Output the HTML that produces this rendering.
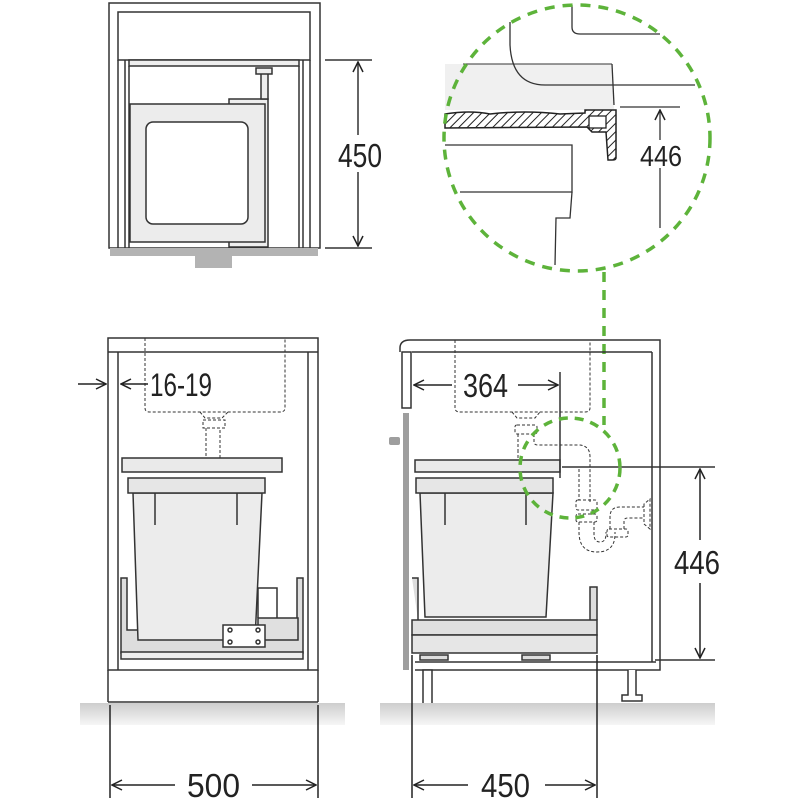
<!DOCTYPE html>
<html><head><meta charset="utf-8"><style>
html,body{margin:0;padding:0;background:#fff}
svg{display:block}
text{font-family:"Liberation Sans Narrow","Liberation Sans",sans-serif;fill:#222}
</style></head><body>
<svg width="800" height="800" viewBox="0 0 800 800" xmlns="http://www.w3.org/2000/svg">
<defs>
<pattern id="h" width="6" height="6" patternUnits="userSpaceOnUse" patternTransform="rotate(45)">
<rect width="6" height="6" fill="#fff"/><line x1="0" y1="0" x2="0" y2="6" stroke="#222" stroke-width="2"/></pattern>
<linearGradient id="fl" x1="0" y1="0" x2="0" y2="1"><stop offset="0" stop-color="#cdcdcd"/><stop offset="1" stop-color="#f6f6f6"/></linearGradient>
<marker id="a" viewBox="0 0 12 12" refX="11" refY="6" markerWidth="12" markerHeight="12" orient="auto" markerUnits="userSpaceOnUse"><path d="M1 1 L11 6 L1 11" fill="none" stroke="#222" stroke-width="1.5"/></marker>
</defs>
<g fill="none" stroke="#333" stroke-width="1.5">
<!-- TOP VIEW -->
<rect x="109" y="3" width="211" height="245"/>
<rect x="118" y="12" width="192" height="48"/>
<line x1="118" y1="60" x2="118" y2="248"/><line x1="125" y1="60" x2="125" y2="248"/><line x1="129" y1="66" x2="129" y2="248"/>
<line x1="310" y1="60" x2="310" y2="248"/><line x1="303" y1="60" x2="303" y2="248"/><line x1="299" y1="66" x2="299" y2="248"/>
<rect x="129" y="60" width="170" height="6" fill="#eee"/>
<rect x="229" y="99" width="39" height="148" fill="#eee"/>
<rect x="261" y="73" width="7" height="26" fill="#eee"/>
<rect x="256" y="68" width="16" height="6" fill="#eee"/>
<rect x="130" y="104" width="135" height="138" fill="#ececec"/>
<rect x="146" y="122" width="102" height="102" rx="7" fill="#fff"/>
<rect x="110" y="248" width="208" height="8" fill="#b3b3b3" stroke="none"/>
<rect x="195" y="256" width="37" height="12" fill="#b3b3b3" stroke="none"/>
<line x1="325" y1="60" x2="372" y2="60"/><line x1="325" y1="248" x2="372" y2="248"/>
<line x1="358" y1="62" x2="358" y2="135" marker-end="url(#a)" transform="rotate(180 358 98.5)"/>
<line x1="358" y1="172" x2="358" y2="246" marker-end="url(#a)"/>
</g>
<text x="338" y="167" font-size="33" textLength="44" lengthAdjust="spacingAndGlyphs">450</text>

<!-- DETAIL CIRCLE -->
<g fill="none" stroke="#333" stroke-width="1.3">
<path d="M445 110 L445 64 L612 64 L614 110 Z" fill="#f0f0f0" stroke="none"/>
<line x1="463" y1="64" x2="612" y2="64" stroke-width="1"/>
<line x1="612" y1="64" x2="614" y2="105"/>
<path d="M510 22 L510 45 Q512 85 545 85 L695 85"/>
<path d="M572 5 L572 27 Q572 34 580 34 L660 34"/>
<path d="M445 114 Q470 110 490 114 Q525 110 560 114 L585 113 L585 110 L616 110 L616 158 Q616 160 612 160 L608 160 L606 132 L592 132 L587 127 L445 128 Z" fill="url(#h)" stroke="#222" stroke-width="1.5"/>
<rect x="589" y="116" width="17" height="12" fill="#fff" stroke="#222"/>
<path d="M445 145 L572 145 L572 192 L460 192"/>
<path d="M572 192 L570 218 L556 218 L555 265"/>
<line x1="620" y1="107" x2="680" y2="107"/>
<line x1="660" y1="228" x2="660" y2="168"/>
<line x1="660" y1="140" x2="660" y2="110" marker-end="url(#a)"/>
</g>
<text x="640" y="166" font-size="29" textLength="42" lengthAdjust="spacingAndGlyphs">446</text>
<circle cx="577" cy="138" r="133" fill="none" stroke="#5db33a" stroke-width="3.5" stroke-dasharray="10 8"/>
<line x1="604" y1="272" x2="604" y2="425" stroke="#5db33a" stroke-width="3.5" stroke-dasharray="10 8"/>

<!-- BOTTOM LEFT -->
<g fill="none" stroke="#333" stroke-width="1.5">
<rect x="108" y="338" width="210" height="332"/>
<line x1="108" y1="352" x2="318" y2="352"/>
<line x1="118" y1="352" x2="118" y2="670"/><line x1="308" y1="352" x2="308" y2="670"/>
<line x1="108" y1="670" x2="108" y2="702"/><line x1="318" y1="670" x2="318" y2="702"/><line x1="108" y1="702" x2="318" y2="702"/>
<path d="M145 338 L145 408 Q145 412 150 412 L280 412 Q285 412 285 408 L285 338" stroke-dasharray="3 2" stroke-width="1"/>
<path d="M200 412 L205 418 L222 418 L228 412 M203 420 h22 v8 h-22 z M206 428 v30 q7 5 14 0 v-30" stroke-dasharray="3 2" stroke-width="1"/>
<rect x="122" y="458" width="160" height="14" fill="#eaeaea"/>
<path d="M121 578 h6 v52 h170 v-52 h6 v75 h-182 z" fill="#ddd"/>
<path d="M133 493 L262 493 L255 640 L138 640 Z" fill="#ececec"/>
<rect x="128" y="478" width="137" height="15" fill="#e6e6e6"/>
<line x1="155" y1="493" x2="155" y2="525"/><line x1="237" y1="493" x2="237" y2="525"/>
<path d="M258 618 v-30 h19 v30" /><rect x="258" y="618" width="40" height="22" fill="#e0e0e0"/>
<rect x="223" y="625" width="42" height="22" fill="#fff"/>
<circle cx="230" cy="630" r="2"/><circle cx="258" cy="630" r="2"/><circle cx="230" cy="642" r="2"/><circle cx="258" cy="642" r="2"/>
<rect x="121" y="652" width="182" height="7" fill="#eee"/>
</g>
<rect x="80" y="703" width="265" height="22" fill="url(#fl)"/>
<g fill="none" stroke="#222" stroke-width="1.5">
<line x1="110" y1="705" x2="110" y2="798"/><line x1="318" y1="705" x2="318" y2="798"/>
<line x1="175" y1="785" x2="112" y2="785" marker-end="url(#a)"/>
<line x1="252" y1="785" x2="316" y2="785" marker-end="url(#a)"/>
<line x1="78" y1="384" x2="106" y2="384" marker-end="url(#a)"/>
<line x1="148" y1="384" x2="121" y2="384" marker-end="url(#a)"/>
</g>
<text x="187" y="797" font-size="33" textLength="53" lengthAdjust="spacingAndGlyphs">500</text>
<text x="150" y="396" font-size="32" textLength="62" lengthAdjust="spacingAndGlyphs">16-19</text>

<!-- BOTTOM RIGHT -->
<g fill="none" stroke="#333" stroke-width="1.5">
<path d="M400 352 L400 348 Q400 340 410 340 L660 340 L660 670 L415 670"/>
<line x1="652" y1="352" x2="652" y2="662"/><line x1="412" y1="352" x2="652" y2="352"/>
<line x1="415" y1="662" x2="656" y2="662"/>
<rect x="402" y="352" width="9" height="56" fill="#fff"/>
<rect x="403" y="413" width="6" height="257" fill="#9e9e9e" stroke="none"/>
<rect x="389" y="437" width="11" height="8" rx="2" fill="#9e9e9e" stroke="none"/>
<path d="M455 340 L455 408 Q455 412 460 412 L585 412 Q590 412 590 408 L590 340" stroke-dasharray="3 2" stroke-width="1"/>
<g stroke-dasharray="3 2" stroke-width="1">
<path d="M512 412 L517 418 L535 418 L540 412"/>
<rect x="515" y="425" width="22" height="9" rx="2"/>
<path d="M518 434 v16 M534 434 v8 q0 3 4 3 h40 q12 0 12 12 v45 M518 450 v17 h42"/>
<path d="M566 467 h13 v33"/>
<rect x="576" y="500" width="21" height="10" rx="2"/><rect x="576" y="514" width="21" height="8" rx="2"/>
<path d="M579 522 v10 q0 20 18 20 q18 0 18 -18 v-2 M594 522 v12 q0 8 6 8 q6 0 6 -8 v-2"/>
<rect x="607" y="529" width="21" height="8" rx="2"/>
<path d="M610 529 v-12 q0 -10 10 -10 h24 M624 529 v-8 q0 -3 4 -3 h16 M644 504 v20 l6 5 v-30 z"/>
</g>
<rect x="415" y="460" width="145" height="12" fill="#eaeaea"/>
<line x1="560" y1="372" x2="560" y2="478"/>
<path d="M420 493 L553 493 L546 617 L425 617 Z" fill="#ececec"/>
<rect x="416" y="478" width="137" height="15" fill="#e6e6e6"/>
<line x1="445" y1="493" x2="445" y2="525"/><line x1="526" y1="493" x2="526" y2="525"/>
<path d="M412 578 h6 v42 M590 620 v-33 h7 v33" fill="#ddd"/>
<rect x="412" y="620" width="185" height="15" fill="#e0e0e0"/>
<rect x="412" y="635" width="185" height="18" fill="#e6e6e6"/>
<rect x="420" y="655" width="28" height="5" fill="#ddd"/><rect x="522" y="655" width="28" height="5" fill="#ddd"/>
<rect x="423" y="670" width="9" height="34" fill="#fff"/>
<path d="M628 670 v25 h-6 v6 h20 v-6 h-6 v-25" fill="#fff"/>
<line x1="562" y1="467" x2="715" y2="467"/><line x1="655" y1="660" x2="715" y2="660"/>
</g>
<rect x="380" y="703" width="335" height="22" fill="url(#fl)"/>
<circle cx="570" cy="468" r="50" fill="none" stroke="#5db33a" stroke-width="3.5" stroke-dasharray="9 7"/>
<g fill="none" stroke="#222" stroke-width="1.5">
<line x1="412" y1="655" x2="412" y2="798"/><line x1="597" y1="655" x2="597" y2="798"/>
<line x1="468" y1="785" x2="414" y2="785" marker-end="url(#a)"/>
<line x1="545" y1="785" x2="595" y2="785" marker-end="url(#a)"/>
<line x1="452" y1="385" x2="414" y2="385" marker-end="url(#a)"/>
<line x1="518" y1="385" x2="558" y2="385" marker-end="url(#a)"/>
<line x1="700" y1="540" x2="700" y2="469" marker-end="url(#a)"/>
<line x1="700" y1="583" x2="700" y2="658" marker-end="url(#a)"/>
</g>
<text x="481" y="797" font-size="33" textLength="49" lengthAdjust="spacingAndGlyphs">450</text>
<text x="463" y="397" font-size="33" textLength="45" lengthAdjust="spacingAndGlyphs">364</text>
<text x="674" y="574" font-size="33" textLength="46" lengthAdjust="spacingAndGlyphs">446</text>
</svg>
</body></html>
